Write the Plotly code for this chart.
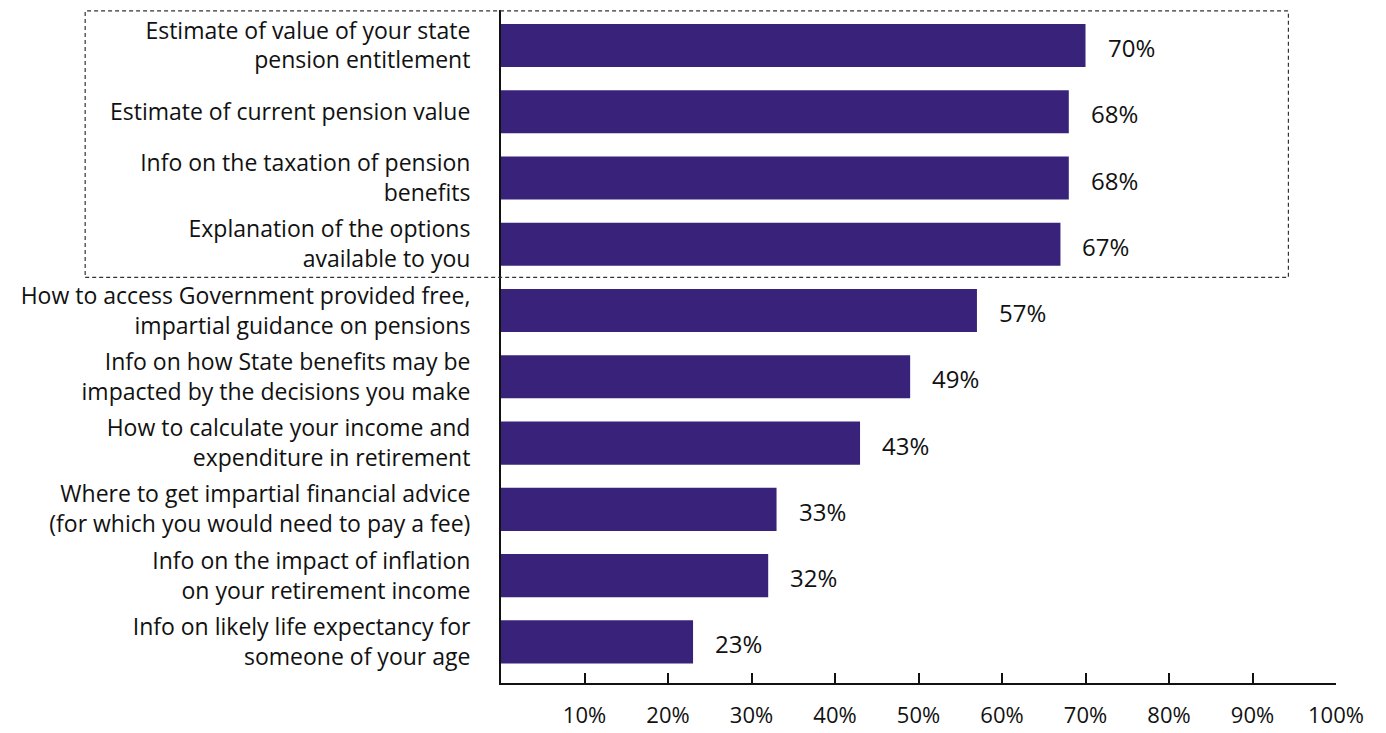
import plotly.graph_objects as go

# Share of respondents wanting each type of information
categories = [
    "Estimate of value of your state<br>pension entitlement",
    "Estimate of current pension value",
    "Info on the taxation of pension<br>benefits",
    "Explanation of the options<br>available to you",
    "How to access Government provided free,<br>impartial guidance on pensions",
    "Info on how State benefits may be<br>impacted by the decisions you make",
    "How to calculate your income and<br>expenditure in retirement",
    "Where to get impartial financial advice<br>(for which you would need to pay a fee)",
    "Info on the impact of inflation<br>on your retirement income",
    "Info on likely life expectancy for<br>someone of your age",
]
values = [70, 68, 68, 67, 57, 49, 43, 33, 32, 23]
x_ticks = [10, 20, 30, 40, 50, 60, 70, 80, 90, 100]
x_tick_labels = [f"{t}%" for t in x_ticks]

FONT = "Open Sans"
TEXT_COLOR = "#111111"
BAR_COLOR = "#39237A"

positions = list(range(len(categories)))

fig = go.Figure(
    go.Bar(
        x=values,
        y=positions,
        orientation="h",
        marker=dict(color=BAR_COLOR, line=dict(width=0)),
        width=0.65,
        hoverinfo="skip",
    )
)

# value labels to the right of each bar
for pos, v in zip(positions, values):
    fig.add_annotation(
        x=v, y=pos, xref="x", yref="y",
        text=f"{v}%", showarrow=False,
        xanchor="left", yanchor="middle", xshift=20, yshift=-2,
        font=dict(family=FONT, size=24, color=TEXT_COLOR),
    )

y_top, y_bottom = -0.535, 9.62

def y_to_paper(y):
    return (y_bottom - y) / (y_bottom - y_top)

# dashed frame around the top four items
fig.add_shape(
    type="rect", xref="paper", yref="paper",
    x0=-0.498, x1=0.943,
    y0=y_to_paper(3.5), y1=y_to_paper(-0.5) + 0.002,
    line=dict(color="#333333", width=1.2, dash="4px,3px"),
    fillcolor="rgba(0,0,0,0)",
)

fig.update_layout(
    width=1386, height=733,
    margin=dict(l=501, r=50, t=10, b=50),
    paper_bgcolor="white", plot_bgcolor="white",
    showlegend=False,
    font=dict(family=FONT, size=22, color=TEXT_COLOR),
    xaxis=dict(
        range=[0, 100], automargin=False,
        tickvals=x_ticks, ticktext=x_tick_labels,
        ticks="inside", ticklen=10, tickwidth=2, tickcolor=TEXT_COLOR,
        showline=True, linecolor=TEXT_COLOR, linewidth=2,
        showgrid=False, zeroline=False,
        ticklabelstandoff=12,
        tickfont=dict(family=FONT, size=22, color=TEXT_COLOR),
    ),
    yaxis=dict(
        range=[y_bottom, y_top], automargin=False,
        tickvals=positions, ticktext=categories,
        ticks="", showline=True, linecolor=TEXT_COLOR, linewidth=2,
        showgrid=False, zeroline=False,
        ticklabelstandoff=24,
        tickfont=dict(family=FONT, size=23, color=TEXT_COLOR),
    ),
)

fig.write_html("out.html")
